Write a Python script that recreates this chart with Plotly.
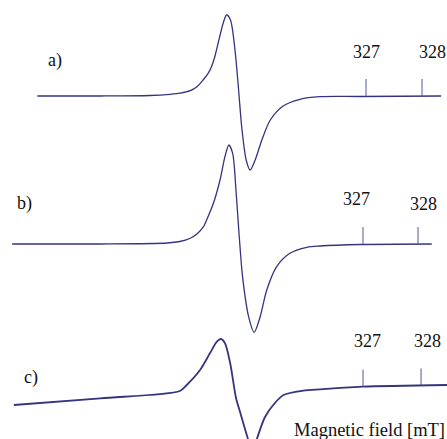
import plotly.graph_objects as go

# Magnetic field (mT) and derivative EPR signal (a.u.)
field_a = [321.13, 322.25, 323.14, 323.50, 323.68, 323.86, 323.98, 324.09, 324.18, 324.24,
           324.30, 324.36, 324.45, 324.51, 324.58, 324.66, 324.72, 324.78, 324.86, 324.93,
           325.02, 325.14, 325.29, 325.52, 325.82, 326.18, 326.89, 328.34]
signal_a = [0, 0, 0.5, 1.7, 2.8, 5.3, 9.3, 16, 22.7, 29.3,
            39.3, 53, 73, 81, 76, 46, 9.3, -30.7, -64, -74,
            -64, -44, -24, -10, -3.3, -0.7, -0.5, 0]

field_b = [320.62, 322.22, 323.44, 323.67, 323.85, 323.98, 324.10, 324.18, 324.28, 324.40,
           324.49, 324.56, 324.63, 324.69, 324.75, 324.81, 324.92, 325.02, 325.13, 325.25,
           325.43, 325.67, 325.98, 326.22, 326.95, 328.25]
signal_b = [0, 0, 1, 2.5, 5.5, 10, 17.3, 27, 40.7, 64,
            87.3, 99, 90.7, 54, 7.3, -32.7, -72.7, -88.3, -72.7, -46,
            -22.7, -9.3, -3.3, -2, -0.5, 0]

field_c = [320.98, 322.47, 323.84, 323.96, 324.19, 324.36, 324.48, 324.55, 324.62, 324.71,
           324.81, 324.88, 324.97, 325.05, 325.10, 325.17, 325.31, 325.48, 325.63, 325.97,
           326.26, 326.99, 328.45]
signal_c = [-15, -8.3, -1, 5, 20, 36.7, 48.3, 51, 46.7, 26.7,
            -8, -22, -40, -55, -62, -49, -27, -13, -5, -0.7,
            0.7, 3.3, 5]

tick_fields = [327, 328]
tick_labels = ["327", "328"]
tick_base_a = [0, 0]
tick_base_b = [0, 0]
tick_base_c = [3.3, 4.5]
panel_labels = ["a)", "b)", "c)"]
axis_title = "Magnetic field [mT]"

LINE = "#34347f"
TICK = "#55559a"
FONT = "Liberation Serif"
TXT = "#111111"
TICK_LEN = 17

fig = go.Figure()

panels = [
    (field_a, signal_a, tick_base_a, "x", "y", 1.3),
    (field_b, signal_b, tick_base_b, "x2", "y2", 1.3),
    (field_c, signal_c, tick_base_c, "x3", "y3", 1.8),
]
for fx, sy, tb, xa, ya, w in panels:
    fig.add_trace(go.Scatter(x=fx, y=sy, mode="lines", xaxis=xa, yaxis=ya,
                             line=dict(color=LINE, width=w, shape="spline", smoothing=0.8),
                             hoverinfo="skip", showlegend=False))
    for f, b in zip(tick_fields, tb):
        fig.add_trace(go.Scatter(x=[f, f], y=[b, b + TICK_LEN], mode="lines", xaxis=xa, yaxis=ya,
                                 line=dict(color=TICK, width=1), hoverinfo="skip", showlegend=False))

hidden = dict(visible=False, showgrid=False, zeroline=False, fixedrange=True)
fig.update_layout(
    width=447, height=439,
    margin=dict(l=0, r=0, t=0, b=0),
    paper_bgcolor="white", plot_bgcolor="rgba(0,0,0,0)",
    xaxis=dict(range=[320.464, 328.446], domain=[0, 1], anchor="y", **hidden),
    yaxis=dict(range=[-343, 96], domain=[0, 1], anchor="x", **hidden),
    xaxis2=dict(range=[320.4, 328.527], domain=[0, 1], anchor="y2", overlaying="x", **hidden),
    yaxis2=dict(range=[-195, 244], domain=[0, 1], anchor="x2", overlaying="y", **hidden),
    xaxis3=dict(range=[320.741, 328.448], domain=[0, 1], anchor="y3", overlaying="x", **hidden),
    yaxis3=dict(range=[-49, 390], domain=[0, 1], anchor="x3", overlaying="y", **hidden),
    font=dict(family=FONT, size=18, color=TXT),
)

ann = []
# tick value labels
label_specs = [
    ("x", "y", [(0, 44), (10, 44)]),
    ("x2", "y2", [(-7, 45), (5, 40)]),
    ("x3", "y3", [(4, 49), (6, 49)]),
]
for xr, yr, specs in label_specs:
    for (shift, yv), f, t in zip(specs, tick_fields, tick_labels):
        ann.append(dict(x=f, y=yv, xref=xr, yref=yr, text=t, showarrow=False,
                        xshift=shift, xanchor="center", yanchor="middle",
                        font=dict(family=FONT, size=18, color=TXT)))
# panel labels
for t, (px, py) in zip(panel_labels, [(55, 61), (24.5, 203), (31, 377)]):
    ann.append(dict(x=px / 447, y=1 - py / 439, xref="paper", yref="paper", text=t,
                    showarrow=False, xanchor="center", yanchor="middle",
                    font=dict(family=FONT, size=18, color=TXT)))
ann.append(dict(x=1.0, y=1 - 430 / 439, xref="paper", yref="paper", text=axis_title,
                showarrow=False, xanchor="right", yanchor="middle",
                font=dict(family=FONT, size=18.5, color=TXT)))
fig.update_layout(annotations=ann)

fig.write_html("out.html", config={"displayModeBar": False},
               post_script="document.body.style.margin='0px';document.body.style.padding='0px';document.body.style.overflow='hidden';")
